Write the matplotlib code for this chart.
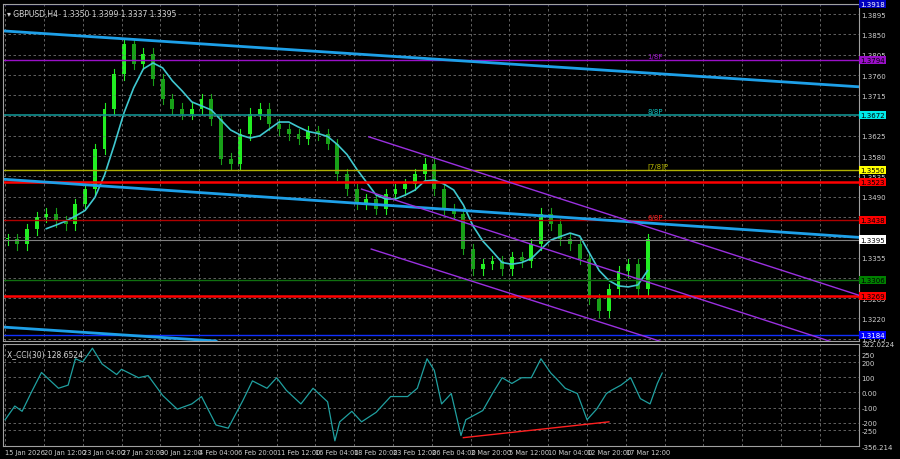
import matplotlib.pyplot as plt
import numpy as np

# closes every 4 H4 bars
closes = [1.3396, 1.3385, 1.3418, 1.3445, 1.3452, 1.3436, 1.3429, 1.3474, 1.3507, 1.3596,
          1.3685, 1.3762, 1.3829, 1.3785, 1.3807, 1.3751, 1.3707, 1.3685, 1.3674, 1.3685,
          1.3707, 1.3662, 1.3574, 1.3563, 1.3629, 1.3674, 1.3685, 1.3651, 1.3640, 1.3629,
          1.3618, 1.3636, 1.3629, 1.3607, 1.3540, 1.3507, 1.3474, 1.3485, 1.3463, 1.3496,
          1.3507, 1.3518, 1.3540, 1.3563, 1.3507, 1.3463, 1.3452, 1.3374, 1.3329, 1.3341,
          1.3347, 1.3329, 1.3356, 1.3347, 1.3385, 1.3452, 1.3429, 1.3396, 1.3385, 1.3352,
          1.3263, 1.3236, 1.3285, 1.3325, 1.3341, 1.3285, 1.3396]
step = 4

cci_bars = [1, 5, 8, 12, 16, 23, 27, 30, 33, 37, 41, 47, 49, 56, 60, 66, 72, 78, 82, 88,
            93, 99, 103, 109, 113, 117, 123, 128, 134, 137, 139, 144, 148, 154, 160, 167,
            171, 175, 178, 181, 185, 189, 191, 198, 202, 206, 210, 214, 218, 222, 226, 228,
            232, 237, 241, 245, 249, 251, 255, 259, 263, 267, 270, 272]
cci_vals = [-181, -90, -125, 7, 133, 28, 49, 224, 203, 294, 189, 119, 154, 98, 112, -20,
            -111, -76, -27, -216, -237, -55, 77, 28, 98, 14, -76, 28, -62, -321, -195, -125,
            -195, -132, -27, -27, 28, 224, 147, -76, -7, -286, -181, -120, -7, 98, 60, 98,
            98, 224, 130, 98, 28, -7, -181, -110, -7, 14, 49, 98, -41, -76, 60, 129]

date_labels = ['15 Jan 2026', '20 Jan 12:00', '23 Jan 04:00', '27 Jan 20:00', '30 Jan 12:00',
               '4 Feb 04:00', '6 Feb 20:00', '11 Feb 12:00', '16 Feb 04:00', '18 Feb 20:00',
               '23 Feb 12:00', '26 Feb 04:00', '2 Mar 20:00', '5 Mar 12:00', '10 Mar 04:00',
               '12 Mar 20:00', '17 Mar 12:00']

# horizontal levels: price, colour, width
levels = [(1.3918, '#1010a0', 1), (1.3794, '#9a10c8', 1), (1.3672, '#109090', 1.2),
          (1.3550, '#b0b000', 1), (1.3523, '#ff0000', 1.8), (1.3438, '#b00000', 1),
          (1.3306, '#107010', 1), (1.3269, '#ff0000', 1.8), (1.3184, '#1030ff', 1)]
tags = [(1.3918, '1.3918', '#0000c0', 'w'), (1.3794, '1.3794', '#9a10c8', 'k'),
        (1.3672, '1.3672', '#00e8e8', 'k'), (1.3550, '1.3550', '#ffff00', 'k'),
        (1.3523, '1.3523', '#ff0000', 'k'), (1.3438, '1.3438', '#ff0000', 'k'),
        (1.3395, '1.3395', '#ffffff', 'k'), (1.3306, '1.3306', '#008000', 'k'),
        (1.3269, '1.3269', '#ff0000', 'k'), (1.3184, '1.3184', '#0000ff', 'w')]

bg = 'black'
fig = plt.figure(figsize=(9, 4.6), dpi=100, facecolor=bg)
ax = fig.add_axes([0.003, 0.2565, 0.951, 0.733], facecolor=bg)
ax2 = fig.add_axes([0.003, 0.028, 0.951, 0.222], facecolor=bg)

nbar = 353
ymin, ymax = 1.3170, 1.3918
for a in (ax, ax2):
    a.set_xlim(0, nbar)
    for s in a.spines.values():
        s.set_color('#a0a0a0')
    a.tick_params(colors='#d0d0d0', labelsize=5, length=0, pad=2)
    a.yaxis.tick_right()
ax.set_ylim(ymin, ymax)

# candles
xs = np.arange(len(closes)) * step + 2
opens = [closes[0]] + closes[:-1]
for x, o, c in zip(xs, opens, closes):
    col = '#22ee22' if c >= o else '#18a018'
    ax.plot([x, x], [min(o, c) - 0.0012, max(o, c) + 0.0012], color=col, lw=0.8)
    ax.bar(x, max(abs(c - o), 0.0003), bottom=min(o, c), width=step * 0.4, color=col)
ma = np.convolve(closes, np.ones(5) / 5, mode='valid')
ax.plot(xs[4:], ma, color='#40c8d0', lw=1.2)

for p, col, w in levels:
    ax.axhline(p, color=col, lw=w)
ax.axhline(1.3395, color='#808080', lw=0.8)

# trend lines
ax.plot([0, nbar], [1.3858, 1.3734], color='#1ea0e8', lw=2)
ax.plot([0, nbar], [1.3529, 1.3400], color='#1ea0e8', lw=2)
ax.plot([0, 88], [1.3201, 1.3170], color='#1ea0e8', lw=2)
ax.plot([151, 354], [1.3623, 1.3270], color='#9a30e0', lw=1)
ax.plot([148, 342], [1.3507, 1.3168], color='#9a30e0', lw=1)
ax.plot([152, 272], [1.3374, 1.3168], color='#9a30e0', lw=1)

for p, t, col in [(1.3794, '1/8P', '#9a10c8'), (1.3672, '8/8P', '#10c0c0'),
                  (1.3550, '[7/8]P', '#c0c000'), (1.3438, '6/8P', '#ff2020')]:
    ax.text(266, p + 0.0001, t, color=col, fontsize=5, va='bottom')

yt = np.arange(1.3175, 1.3901, 0.0045)
ax.set_yticks(yt)
ax.set_yticklabels(['%.4f' % v for v in yt])
xt = np.arange(1, nbar, 16)
ax.set_xticks(xt)
ax.set_xticklabels([])
ax.grid(True, color='#707070', ls=(0, (3, 3)), lw=0.6)
for p, t, fc, tc in tags:
    ax.text(1.002, (p - ymin) / (ymax - ymin), t, transform=ax.transAxes, fontsize=5,
            color=tc, va='center', ha='left', zorder=5,
            bbox=dict(fc=fc, ec='none', pad=0.8))
ax.text(0.005, 0.985, '\u25be GBPUSD,H4  1.3350 1.3399 1.3337 1.3395', transform=ax.transAxes,
        color='#d0d0d0', fontsize=5.5, va='top')

# CCI
ax2.set_ylim(-356.2, 322.0)
ax2.plot(cci_bars, cci_vals, color='#20a0a0', lw=0.9)
ax2.plot([190, 250], [-300, -195], color='#ff2020', lw=1)
cy = [322.0224, 250, 200, 100, 0, -100, -200, -250, -356.214]
ax2.set_yticks(cy)
ax2.set_yticklabels(['322.0224', '250', '200', '100', '0.00', '-100', '-200', '-250', '-356.214'])
ax2.set_xticks(xt)
ax2.set_xticklabels(date_labels + [''] * (len(xt) - len(date_labels)), ha='left',
                    fontsize=4.8)
ax2.grid(True, color='#707070', ls=(0, (3, 3)), lw=0.6)
ax2.text(0.005, 0.95, 'X_CCI(30) 128.6524', transform=ax2.transAxes, color='#d0d0d0',
         fontsize=5.5, va='top')

fig.savefig('out.png', facecolor=bg)
